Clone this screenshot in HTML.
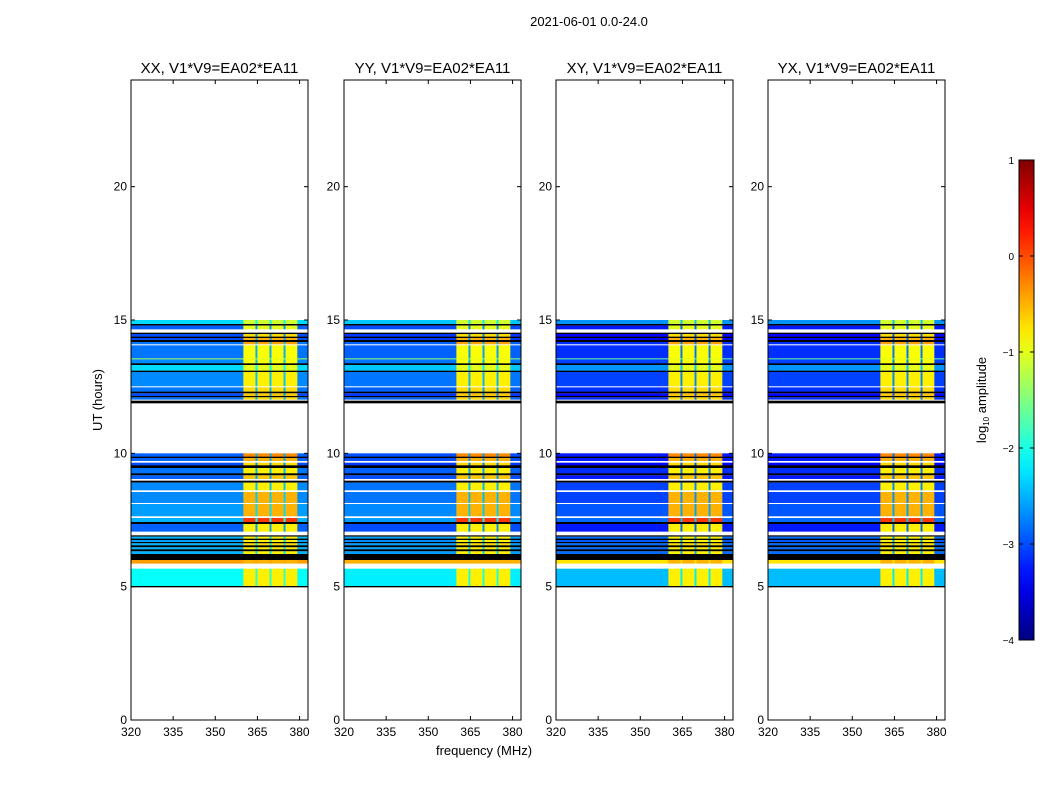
<!DOCTYPE html>
<html><head><meta charset="utf-8"><style>
body{margin:0;background:#fff;}
svg text{font-family:"Liberation Sans","DejaVu Sans",sans-serif;fill:#000;}
</style></head><body>
<svg id="chart" width="1050" height="800" xmlns="http://www.w3.org/2000/svg">
<rect width="1050" height="800" fill="#fff"/>
<text x="589" y="26" font-size="13" text-anchor="middle">2021-06-01 0.0-24.0</text>
<text x="0" y="0" font-size="13" text-anchor="middle" transform="translate(102,400) rotate(-90)">UT (hours)</text>
<text x="484" y="755" font-size="13" text-anchor="middle">frequency (MHz)</text>
<g id="panels"></g>
<g id="cbar"></g>
</svg>
<script>
// ---- data ----
const panelTitles = ["XX, V1*V9=EA02*EA11","YY, V1*V9=EA02*EA11","XY, V1*V9=EA02*EA11","YX, V1*V9=EA02*EA11"];
const panelBaseOffset = [0, -0.1, -0.35, -0.35];
const xTicks = [320,335,350,365,380];
const yTicks = [0,5,10,15,20];
const cbarTicks = [1,0,-1,-2,-3,-4];
// time segments: start hour, end hour, type (d=data, k=flagged black, w=empty)
const segStart = [15.0,14.85,14.79,14.66,14.525,14.475,14.375,14.325,14.25,14.175,14.1,14.05,13.5625,13.525,13.375,13.3125,13.1,13.05,12.525,12.475,12.3125,12.25,12.15,12.1,12.025,11.975,
 10.0,9.875,9.825,9.725,9.65,9.55,9.45,9.25,9.175,9.05,8.975,8.9,8.625,8.55,8.15,8.1,7.65,7.575,7.425,7.35,7.075,6.925,6.875,6.8,6.75,6.675,6.625,6.55,6.475,6.4,6.325,6.225,6.0,5.875,5.675,5.025];
const segEnd = [14.85,14.79,14.66,14.525,14.475,14.375,14.325,14.25,14.175,14.1,14.05,13.5625,13.525,13.375,13.3125,13.1,13.05,12.525,12.475,12.3125,12.25,12.15,12.1,12.025,11.975,11.875,
 9.875,9.825,9.725,9.65,9.55,9.45,9.25,9.175,9.05,8.975,8.9,8.625,8.55,8.15,8.1,7.65,7.575,7.425,7.35,7.075,6.925,6.875,6.8,6.75,6.675,6.625,6.55,6.475,6.4,6.325,6.225,6.0,5.875,5.675,5.025,4.975];
const segType = ["d","k","d","w","k","d","k","d","k","d","w","d","d","d","k","d","k","d","w","d","k","d","k","d","w","k",
 "d","k","d","w","d","k","d","k","d","w","k","d","w","d","w","d","w","d","k","d","w","k","d","k","d","k","d","k","d","k","d","k","d","w","d","k"];
const segBase = [-2.3,0,-2.9,0,0,-3.0,0,-3.0,0,-2.8,0,-2.8,-1.3,-2.7,0,-2.3,0,-2.7,0,-2.8,0,-3.0,0,-2.8,0,0,
 -2.9,0,-2.9,0,-3.0,0,-2.8,0,-2.9,0,0,-2.7,0,-2.7,0,-2.6,0,-2.5,0,-2.9,0,0,-2.5,0,-2.6,0,-2.5,0,-2.5,0,-2.5,0,-0.4,0,-2.1,0];
const segRfi = [-1.1,0,-1.0,0,0,-0.7,0,-0.5,0,-0.4,0,-0.9,-1.0,-0.9,0,-1.0,0,-0.8,0,-0.7,0,-0.6,0,-0.7,0,0,
 -0.3,0,-0.5,0,-0.7,0,-0.8,0,-0.6,0,0,-0.8,0,-0.5,0,-0.5,0,0.1,0,-0.8,0,0,-0.8,0,-0.8,0,-0.7,0,-0.8,0,-0.8,0,-0.5,0,-0.8,0];
// frequency bands (MHz) and RFI weight
const bandStart = [320,360,364.3,365,369.3,370,374.3,375,379.2];
const bandEnd   = [360,364.3,365,369.3,370,374.3,375,379.2,383];
const bandRfi   = [0,1,0.15,1,0.15,1,0.15,1,0];

// ---- layout ----
const panelX = [131,344,556,768], PW = 177, PT = 80, PB = 720;
const xMin = 320, xMax = 383, yMin = 0, yMax = 24;
function jet(v){ let t=(v+4)/5; t=Math.max(0,Math.min(1,t));
  const f=x=>Math.max(0,Math.min(1,x));
  const r=f(Math.min(4*t-1.5,-4*t+4.5)), g=f(Math.min(4*t-0.5,-4*t+3.5)), b=f(Math.min(4*t+0.5,-4*t+2.5));
  return `rgb(${Math.round(r*255)},${Math.round(g*255)},${Math.round(b*255)})`; }
const NS="http://www.w3.org/2000/svg";
function mk(tag,attrs,parent){const e=document.createElementNS(NS,tag);for(const k in attrs)e.setAttribute(k,attrs[k]);parent.appendChild(e);return e;}
const root=document.getElementById('panels');
panelX.forEach((px,p)=>{
  const sx=v=>px+(v-xMin)/(xMax-xMin)*PW;
  const sy=v=>PB-(v-yMin)/(yMax-yMin)*(PB-PT);
  const g=mk('g',{},root);
  
  
  for(let s=0;s<segStart.length;s++){
    if(segType[s]==='w') continue;
    const y0=sy(segStart[s]), y1=sy(segEnd[s]);
    if(segType[s]==='k'){
      const r=mk('rect',{x:px,y:y0,width:PW,height:y1-y0,fill:'#000'},g);
      
      
      continue;
    }
    for(let b=0;b<bandStart.length;b++){
      const base=segBase[s]+panelBaseOffset[p];
      const v=base+bandRfi[b]*(segRfi[s]-base);
      const x0=sx(bandStart[b]), x1=sx(bandEnd[b]);
      const r=mk('rect',{x:x0,y:y0,width:x1-x0+0.3,height:y1-y0+0.3,fill:jet(v)},g);
      
      
    }
  }
  const fr=mk('rect',{x:px,y:PT,width:PW,height:PB-PT,fill:'none',stroke:'#000','stroke-width':1},g);
  
  
  const t=mk('text',{x:px+PW/2,y:PT-7,'font-size':15,'text-anchor':'middle'},g);
  t.textContent=panelTitles[p];
  
  
  yTicks.forEach(v=>{const y=sy(v);
    mk('line',{x1:px,x2:px+4,y1:y,y2:y,stroke:'#000'},g);
    mk('line',{x1:px+PW-4,x2:px+PW,y1:y,y2:y,stroke:'#000'},g);
    const l=mk('text',{x:px-4,y:y+4,'font-size':12,'text-anchor':'end'},g);l.textContent=v;
    
    });
  xTicks.forEach(v=>{const x=sx(v);
    mk('line',{x1:x,x2:x,y1:PB,y2:PB-4,stroke:'#000'},g);
    mk('line',{x1:x,x2:x,y1:PT,y2:PT+4,stroke:'#000'},g);
    const l=mk('text',{x:x,y:PB+16,'font-size':12,'text-anchor':'middle'},g);l.textContent=v;
    
    });
});
// colorbar
const cb=document.getElementById('cbar');
const cx=1019,cw=15,cTop=160,cBot=640;
const defs=mk('defs',{},cb);
const lg=mk('linearGradient',{id:'jetg',x1:0,y1:1,x2:0,y2:0},defs);
for(let i=0;i<=20;i++){mk('stop',{offset:i/20,'stop-color':jet(-4+5*i/20)},lg);}
mk('rect',{x:cx,y:cTop,width:cw,height:cBot-cTop,fill:'url(#jetg)',stroke:'#000'},cb);
cbarTicks.forEach(v=>{const y=cBot-(v+4)/5*(cBot-cTop);
  mk('line',{x1:cx,x2:cx+4,y1:y,y2:y,stroke:'#000'},cb);
  mk('line',{x1:cx+cw-4,x2:cx+cw,y1:y,y2:y,stroke:'#000'},cb);
  const l=mk('text',{x:cx-5,y:y+4,'font-size':10,'text-anchor':'end'},cb);l.textContent=(v<0?'\u2212'+(-v):v);
  
  });
const ct=mk('text',{'font-size':13,'text-anchor':'middle',transform:'translate(986,400) rotate(-90)'},cb);
ct.innerHTML='log<tspan font-size="8" dy="3">10</tspan><tspan dy="-3"> amplitude</tspan>';


</script>
</body></html>
